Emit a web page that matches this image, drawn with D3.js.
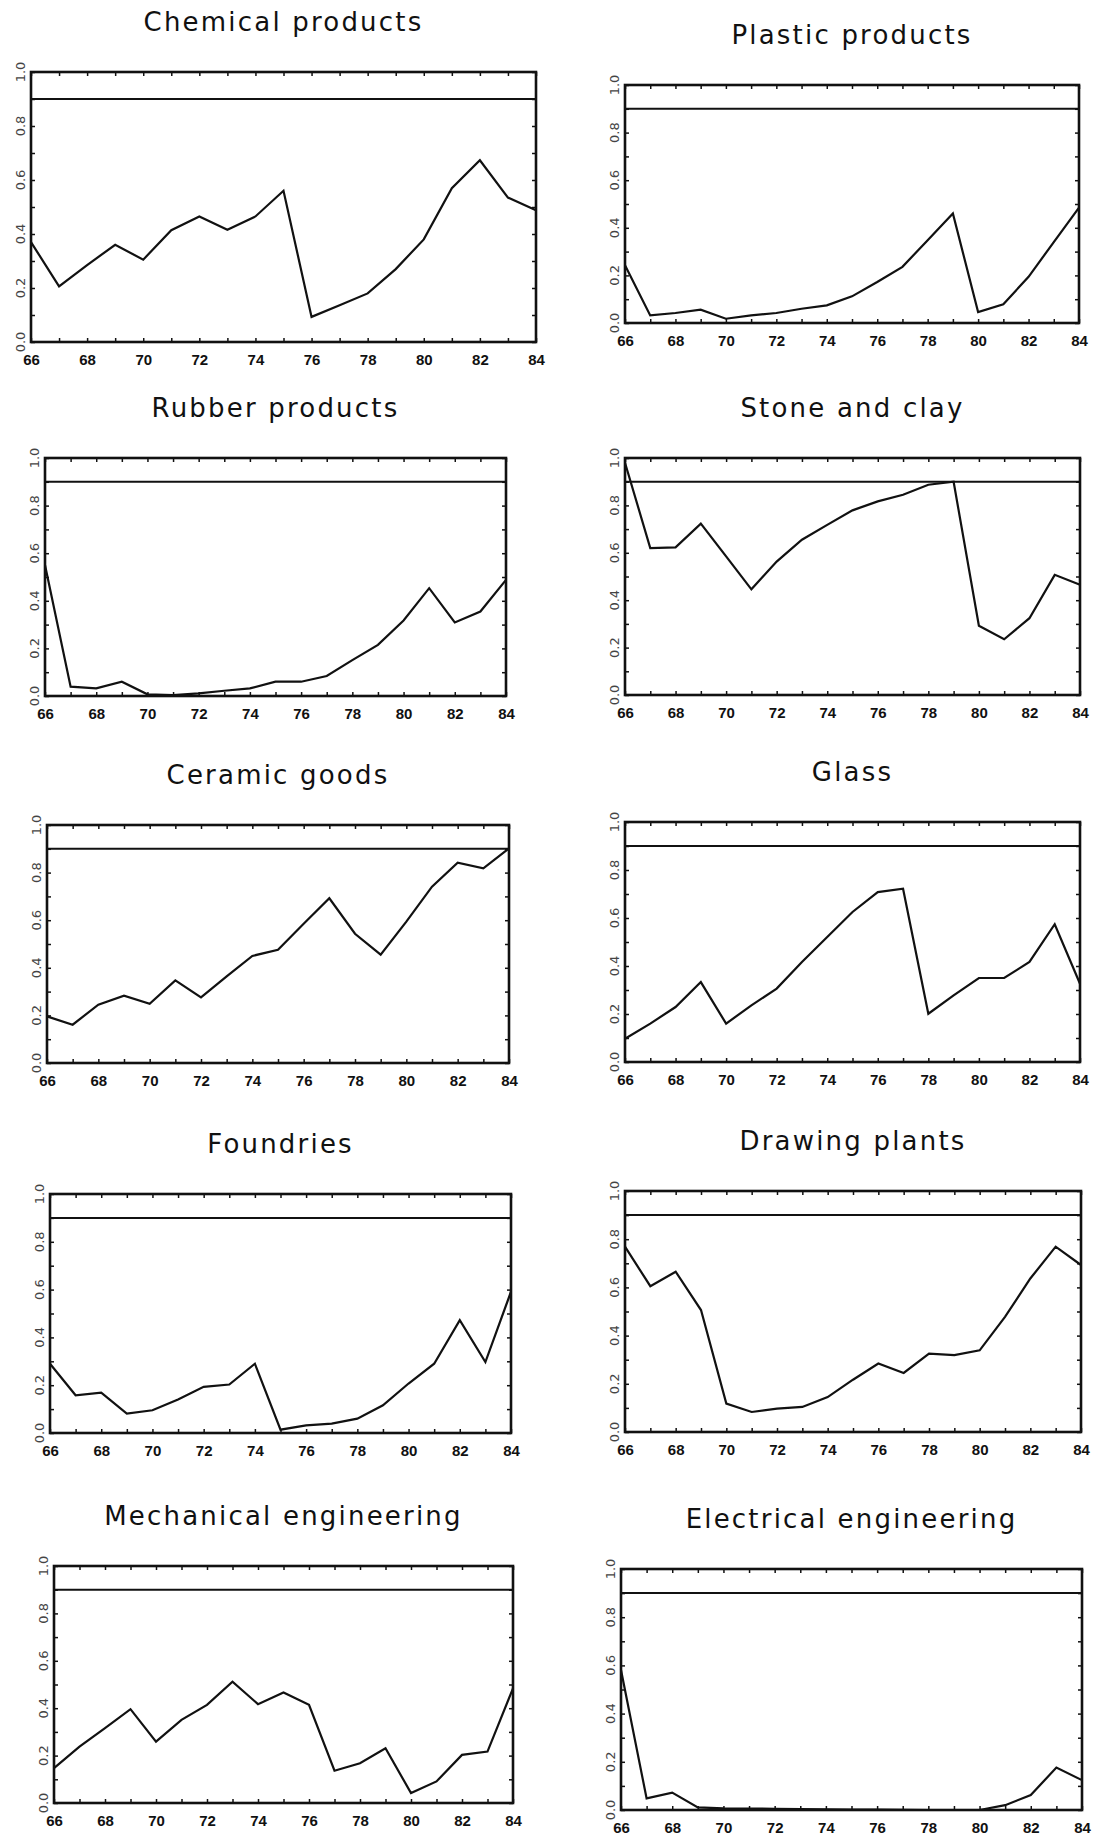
<!DOCTYPE html>
<html>
<head>
<meta charset="utf-8">
<script src="https://cdn.jsdelivr.net/npm/d3@7"></script>
<style>
  html, body { margin: 0; padding: 0; background: #fff; }
  svg { display: block; }
  .title { font-family: "DejaVu Sans", sans-serif; font-size: 26px; letter-spacing: 2.2px; fill: #111; }
  .xlab text { font-family: "Liberation Sans", Arial, sans-serif; font-weight: bold; font-size: 15px; fill: #111; }
  .ylab { font-family: "DejaVu Sans", sans-serif; font-size: 13px; fill: #444; }
  .minor line { stroke: #111; stroke-width: 1.5; }
</style>
</head>
<body>
<div id="chart"></div>
<script>
// years on the x axis
const years = [1966, 1967, 1968, 1969, 1970, 1971, 1972, 1973, 1974, 1975,
               1976, 1977, 1978, 1979, 1980, 1981, 1982, 1983, 1984];
const xTicks = [1966, 1968, 1970, 1972, 1974, 1976, 1978, 1980, 1982, 1984];
const yTicks = [0, 0.2, 0.4, 0.6, 0.8, 1.0];
const yMinor = [0, 0.1, 0.2, 0.3, 0.4, 0.5, 0.6, 0.7, 0.8, 0.9, 1.0];
const threshold = 0.9;

const titles = [
  'Chemical products', 'Plastic products',
  'Rubber products', 'Stone and clay',
  'Ceramic goods', 'Glass',
  'Foundries', 'Drawing plants',
  'Mechanical engineering', 'Electrical engineering'
];

const chemical   = [0.37, 0.206, 0.285, 0.36, 0.305, 0.414, 0.465, 0.416, 0.465, 0.56, 0.093, 0.136, 0.18, 0.27, 0.38, 0.57, 0.673, 0.535, 0.488];
const plastic    = [0.243, 0.032, 0.042, 0.056, 0.018, 0.032, 0.042, 0.06, 0.074, 0.112, 0.172, 0.236, 0.348, 0.46, 0.046, 0.079, 0.194, 0.34, 0.485];
const rubber     = [0.55, 0.039, 0.032, 0.06, 0.007, 0.004, 0.011, 0.022, 0.032, 0.06, 0.06, 0.084, 0.151, 0.215, 0.317, 0.453, 0.309, 0.355, 0.488];
const stoneClay  = [0.98, 0.62, 0.623, 0.723, 0.585, 0.446, 0.563, 0.655, 0.718, 0.779, 0.817, 0.845, 0.887, 0.9, 0.292, 0.235, 0.324, 0.507, 0.465];
const ceramic    = [0.196, 0.161, 0.245, 0.283, 0.249, 0.347, 0.276, 0.364, 0.45, 0.476, 0.585, 0.692, 0.543, 0.455, 0.594, 0.741, 0.842, 0.818, 0.902];
const glass      = [0.097, 0.16, 0.229, 0.333, 0.16, 0.236, 0.306, 0.417, 0.521, 0.625, 0.708, 0.722, 0.201, 0.278, 0.35, 0.35, 0.417, 0.574, 0.326];
const foundries  = [0.29, 0.158, 0.169, 0.081, 0.095, 0.14, 0.193, 0.203, 0.29, 0.014, 0.032, 0.039, 0.06, 0.116, 0.207, 0.29, 0.472, 0.297, 0.591];
const drawing    = [0.769, 0.605, 0.665, 0.506, 0.118, 0.083, 0.097, 0.104, 0.145, 0.217, 0.284, 0.245, 0.325, 0.319, 0.339, 0.478, 0.637, 0.769, 0.693];
const mechanical = [0.147, 0.238, 0.316, 0.396, 0.259, 0.351, 0.414, 0.512, 0.417, 0.466, 0.414, 0.136, 0.168, 0.231, 0.042, 0.091, 0.203, 0.217, 0.484];
const electrical = [0.581, 0.048, 0.072, 0.011, 0.007, 0.006, 0.005, 0.004, 0.003, 0.002, 0.002, 0.001, 0.0, 0.0, 0.0, 0.02, 0.062, 0.176, 0.124];

const series = [chemical, plastic, rubber, stoneClay, ceramic, glass, foundries, drawing, mechanical, electrical];

// plot frames [x0, y0, x1, y1] - the scanned panels are not perfectly aligned
const frames = [
  [31, 72, 536, 342],   [625, 85, 1079, 323],
  [45, 458, 506, 696],  [625, 458, 1080, 695],
  [47, 825, 509, 1063], [625, 822, 1080, 1062],
  [50, 1194, 511, 1433], [625, 1191, 1081, 1432],
  [54, 1566, 513, 1803], [621, 1569, 1082, 1810]
];

const svg = d3.select('#chart').append('svg')
  .attr('width', 1093)
  .attr('height', 1840);

svg.append('rect').attr('width', 1093).attr('height', 1840).attr('fill', '#fff');

function drawPanel(i) {
  const [x0, y0, x1, y1] = frames[i];
  const w = x1 - x0;
  const h = y1 - y0;
  const g = svg.append('g').attr('transform', `translate(${x0},${y0})`);

  const x = d3.scaleLinear().domain([years[0], years[years.length - 1]]).range([0, w]);
  const y = d3.scaleLinear().domain([0, 1]).range([h, 0]);

  // title
  g.append('text')
    .attr('class', 'title')
    .attr('x', w / 2)
    .attr('y', -50)
    .attr('text-anchor', 'middle')
    .attr('dominant-baseline', 'central')
    .text(titles[i]);

  // inward minor ticks on all four sides
  const minor = [
    { axis: d3.axisBottom(x).tickValues(years), t: `translate(0,${h})` },
    { axis: d3.axisTop(x).tickValues(years), t: 'translate(0,0)' },
    { axis: d3.axisLeft(y).tickValues(yMinor), t: 'translate(0,0)' },
    { axis: d3.axisRight(y).tickValues(yMinor), t: `translate(${w},0)` }
  ];
  minor.forEach(m => {
    const a = g.append('g').attr('class', 'minor').attr('transform', m.t)
      .call(m.axis.tickSize(-4).tickFormat(''));
    a.select('.domain').remove();
  });

  // x labels
  const xa = g.append('g').attr('class', 'xlab').attr('transform', `translate(0,${h})`)
    .call(d3.axisBottom(x).tickValues(xTicks).tickSize(0).tickPadding(12)
      .tickFormat(d => String(d).slice(2)));
  xa.select('.domain').remove();
  xa.selectAll('text').attr('font-family', null).attr('font-size', null);

  // y labels, rotated
  g.selectAll('.ylab').data(yTicks).join('text')
    .attr('class', 'ylab')
    .attr('transform', d => `translate(-6,${y(d)}) rotate(-90)`)
    .attr('text-anchor', 'middle')
    .text(d => d3.format('.1f')(d));

  // reference line at 0.9
  g.append('line')
    .attr('x1', x(years[0])).attr('x2', x(years[years.length - 1]))
    .attr('y1', y(threshold)).attr('y2', y(threshold))
    .attr('stroke', '#111').attr('stroke-width', 2);

  // data line
  const line = d3.line().x((d, j) => x(years[j])).y(d => y(d));
  g.append('path')
    .datum(series[i])
    .attr('d', line)
    .attr('fill', 'none')
    .attr('stroke', '#111')
    .attr('stroke-width', 2.2)
    .attr('stroke-linejoin', 'miter');

  // frame
  g.append('rect')
    .attr('width', w).attr('height', h)
    .attr('fill', 'none')
    .attr('stroke', '#111')
    .attr('stroke-width', 2.6);
}

titles.forEach((t, i) => drawPanel(i));
</script>
</body>
</html>
